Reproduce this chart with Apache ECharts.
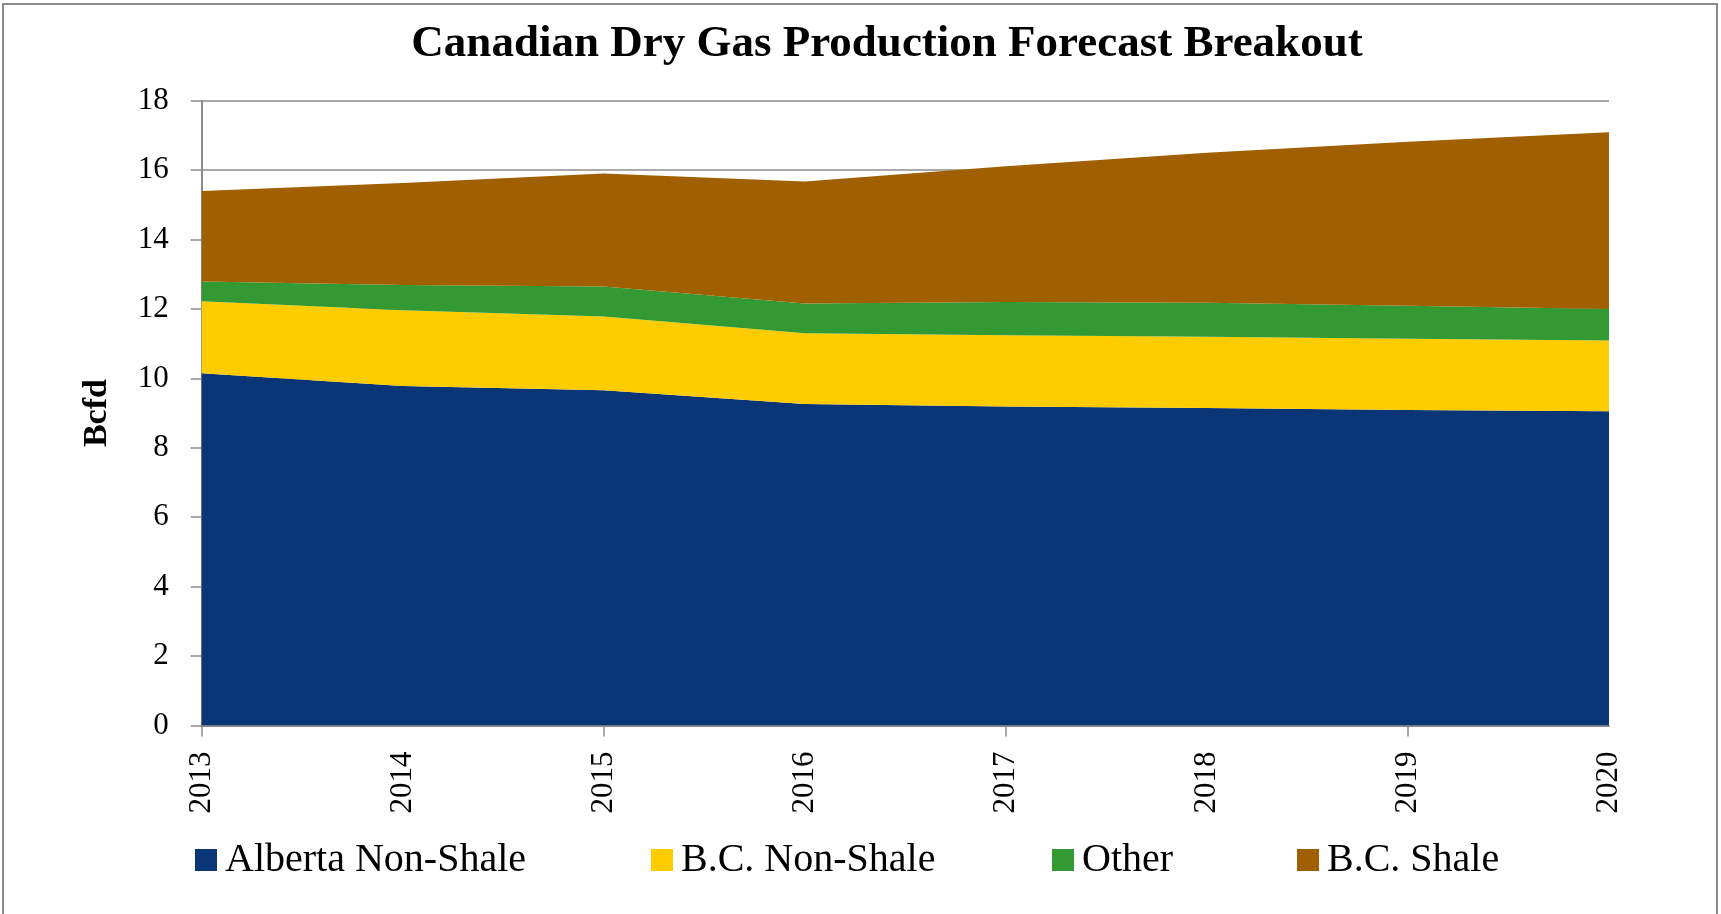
<!DOCTYPE html>
<html>
<head>
<meta charset="utf-8">
<script src="https://cdn.jsdelivr.net/npm/echarts@6/dist/echarts.min.js"></script>
<style>
html,body{margin:0;padding:0;background:#fff;}
#chart{width:1721px;height:914px;}
</style>
</head>
<body>
<div id="chart"></div>
<script>
var years = ['2013','2014','2015','2016','2017','2018','2019','2020'];
var albertaNonShale = [10.15, 9.78, 9.66, 9.26, 9.19, 9.15, 9.09, 9.05];
var bcNonShale      = [2.07, 2.18, 2.12, 2.04, 2.05, 2.05, 2.05, 2.04];
var other           = [0.57, 0.73, 0.87, 0.86, 0.96, 0.98, 0.95, 0.91];
var bcShale         = [2.61, 2.94, 3.25, 3.51, 3.91, 4.32, 4.73, 5.09];
var yTicks = {min: 0, max: 18, interval: 2};

var seriesNames = ['Alberta Non-Shale', 'B.C. Non-Shale', 'Other', 'B.C. Shale'];
var seriesData = [albertaNonShale, bcNonShale, other, bcShale];
var colors = ['#0a3577', '#ffcc00', '#339933', '#a05f00'];
var legendLeft = [190, 646, 1047, 1292];

var FONT = '"Liberation Serif", "Times New Roman", serif';
var GRAY = '#8c8c8c';

var chart = echarts.init(document.getElementById('chart'), null, {renderer: 'canvas'});

var legends = seriesNames.map(function (n, i) {
  return {
    data: [n],
    left: legendLeft[i],
    top: 835,
    orient: 'horizontal',
    icon: 'rect',
    itemWidth: 22,
    itemHeight: 22,
    selectedMode: false,
    textStyle: {fontFamily: FONT, fontSize: 40, color: '#000', padding: [0, 0, 0, 3]}
  };
});

var option = {
  animation: false,
  backgroundColor: '#fff',
  color: colors,
  graphic: [
    {type: 'rect', shape: {x: 3, y: 4, width: 1714, height: 1000},
     style: {fill: 'none', stroke: '#8c8c8c', lineWidth: 2}, silent: true},
    {type: 'text', x: 887, y: 44.5,
     style: {text: 'Canadian Dry Gas Production Forecast Breakout', fontFamily: FONT,
             fontSize: 45, fontWeight: 'bold', fill: '#000', align: 'center', verticalAlign: 'middle'}}
  ],
  legend: legends,
  grid: {left: 201.7, right: 112, top: 100.7, bottom: 188.5, containLabel: false},
  xAxis: {
    type: 'category',
    data: years,
    boundaryGap: false,
    axisLine: {show: true, lineStyle: {color: GRAY, width: 2}},
    axisTick: {show: true, interval: function (idx) { return idx % 2 === 0; }, length: 11, inside: false, lineStyle: {color: GRAY, width: 1.5}},
    axisLabel: {interval: 0, rotate: 90, margin: 26, fontFamily: FONT, fontSize: 31, color: '#000'},
    splitLine: {show: false}
  },
  yAxis: {
    type: 'value',
    min: yTicks.min, max: yTicks.max, interval: yTicks.interval,
    name: 'Bcfd',
    nameLocation: 'middle',
    nameGap: 87,
    nameRotate: 90,
    nameTextStyle: {fontFamily: FONT, fontSize: 34, fontWeight: 'bold', color: '#000'},
    axisLine: {show: true, lineStyle: {color: GRAY, width: 2}},
    axisTick: {show: true, length: 11, lineStyle: {color: GRAY, width: 1.5}},
    axisLabel: {margin: 33, fontFamily: FONT, fontSize: 31, color: '#000'},
    splitLine: {show: true, lineStyle: {color: GRAY, width: 1.5}}
  },
  series: seriesNames.map(function (n, i) {
    return {
      name: n,
      type: 'line',
      stack: 'total',
      data: seriesData[i],
      symbol: 'none',
      showSymbol: false,
      lineStyle: {width: 0},
      areaStyle: {color: colors[i], opacity: 1},
      itemStyle: {color: colors[i]},
      emphasis: {disabled: true},
      z: 2
    };
  })
};
chart.setOption(option);
</script>
</body>
</html>
